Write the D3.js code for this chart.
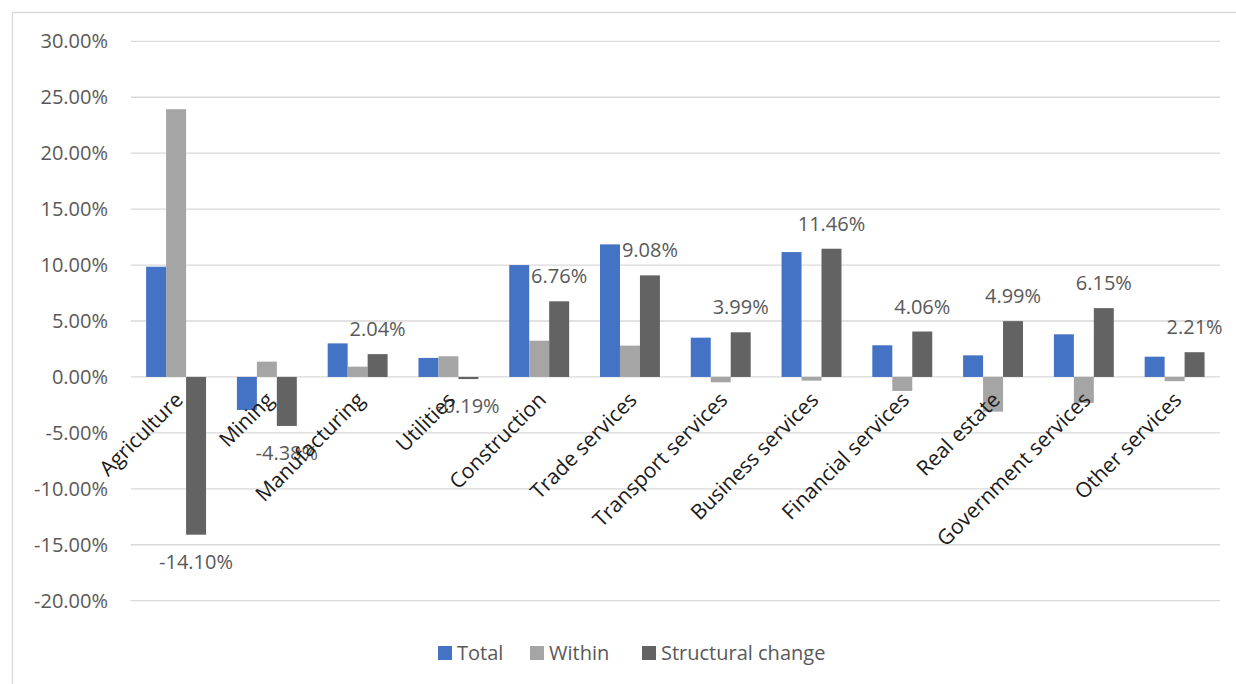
<!DOCTYPE html>
<html>
<head>
<meta charset="utf-8">
<script src="https://cdn.jsdelivr.net/npm/d3@7"></script>
<style>
  html, body { margin: 0; padding: 0; background: #fff; }
  svg { display: block; font-family: "Open Sans", "Noto Sans", sans-serif; }
</style>
</head>
<body>
<svg id="chart" width="1236" height="684"></svg>
<script>
const categories = ["Agriculture", "Mining", "Manufacturing", "Utilities", "Construction", "Trade services",
  "Transport services", "Business services", "Financial services", "Real estate", "Government services", "Other services"];
const seriesNames = ["Total", "Within", "Structural change"];
const totalValues = [9.85, -2.95, 3.00, 1.70, 10.00, 11.85, 3.51, 11.16, 2.83, 1.93, 3.81, 1.81];
const withinValues = [23.93, 1.37, 0.92, 1.85, 3.24, 2.80, -0.48, -0.33, -1.25, -3.10, -2.32, -0.38];
const structuralValues = [-14.10, -4.38, 2.04, -0.19, 6.76, 9.08, 3.99, 11.46, 4.06, 4.99, 6.15, 2.21];
const yTicks = [-20, -15, -10, -5, 0, 5, 10, 15, 20, 25, 30];
const seriesColors = ["#4472C4", "#A5A5A5", "#636363"];

const seriesValues = [totalValues, withinValues, structuralValues];
const pct = v => (v < 0 ? "-" : "") + Math.abs(v).toFixed(2) + "%";

const svg = d3.select("#chart");

// outer chart border (only top and left visible in crop)
svg.append("rect").attr("x", 12.5).attr("y", 12.5).attr("width", 1240).attr("height", 700)
  .attr("fill", "none").attr("stroke", "#d9d9d9").attr("stroke-width", 1.3);

const left = 130.7, right = 1220;
const x0 = d3.scaleBand().domain(categories).range([left, right]).paddingInner(0.34).paddingOuter(0.17);
const x1 = d3.scaleBand().domain(seriesNames).range([0, x0.bandwidth()]);
const y = d3.scaleLinear().domain([-20, 30]).range([600.7, 41.3]);

// gridlines
svg.append("g").selectAll("line").data(yTicks).join("line")
  .attr("x1", left).attr("x2", right)
  .attr("y1", d => y(d)).attr("y2", d => y(d))
  .attr("stroke", "#d9d9d9").attr("stroke-width", 1.3);

// y axis labels
const yAxis = d3.axisLeft(y).tickValues(yTicks).tickSize(0).tickPadding(0).tickFormat(pct);
const yg = svg.append("g").attr("transform", "translate(108,0)").call(yAxis);
yg.select(".domain").remove();
yg.selectAll("text").attr("font-size", 20).attr("fill", "#595959")
  .attr("font-family", "'Open Sans', sans-serif");

// bars
const groups = svg.append("g").selectAll("g").data(categories).join("g")
  .attr("transform", d => `translate(${x0(d)},0)`);
groups.selectAll("rect").data((c, i) => seriesNames.map((s, j) => ({ s, v: seriesValues[j][i] })))
  .join("rect")
  .attr("x", d => x1(d.s))
  .attr("width", x1.bandwidth())
  .attr("y", d => y(Math.max(0, d.v)))
  .attr("height", d => Math.abs(y(d.v) - y(0)))
  .attr("fill", (d, j) => seriesColors[j]);

// data labels for structural change
svg.append("g").selectAll("text").data(categories).join("text")
  .attr("x", (c) => x0(c) + x1("Structural change") + x1.bandwidth() / 2)
  .attr("y", (c, i) => {
    const v = structuralValues[i];
    return v >= 0 ? y(v) - 25 : y(v) + 27;
  })
  .attr("dy", "0.35em")
  .attr("text-anchor", "middle")
  .attr("font-size", 20)
  .attr("fill", "#595959")
  .text((c, i) => pct(structuralValues[i]));

// category labels
const xAxis = d3.axisBottom(x0).tickSize(0).tickPadding(0);
const xg = svg.append("g").call(xAxis);
xg.select(".domain").remove();
xg.selectAll(".tick").attr("transform", d => `translate(${x0(d) + x0.bandwidth() / 2 + 3},396)`);
xg.selectAll("text")
  .attr("x", 0).attr("y", 0).attr("dy", "0.35em")
  .attr("text-anchor", "end")
  .attr("transform", "rotate(-45)")
  .attr("font-size", 21)
  .attr("fill", "#1a1a1a")
  .attr("font-family", "'Open Sans', sans-serif");

// legend
const legendX = [438, 530, 642];
const lg = svg.append("g").selectAll("g").data(seriesNames).join("g")
  .attr("transform", (d, i) => `translate(${legendX[i]},646)`);
lg.append("rect").attr("width", 14).attr("height", 14).attr("fill", (d, i) => seriesColors[i]);
lg.append("text").attr("x", 19).attr("y", 7).attr("dy", "0.35em")
  .attr("font-size", 20).attr("fill", "#595959").text(d => d);
</script>
</body>
</html>
